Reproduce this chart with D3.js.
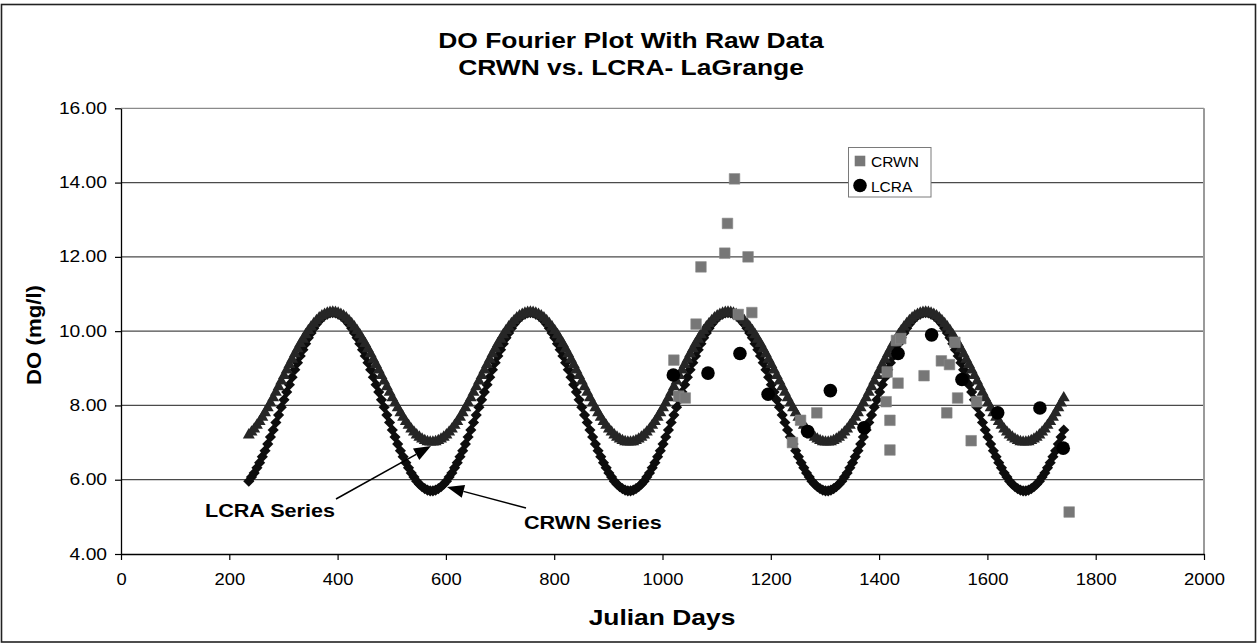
<!DOCTYPE html>
<html><head><meta charset="utf-8">
<script src="https://cdn.jsdelivr.net/npm/d3@7"></script>
<style>body{margin:0;background:#fff}svg{display:block}</style>
</head><body><svg id="c" width="1257" height="644"></svg>
<script>
// ---------------- DATA ----------------
const fourierDays = [
236,241,246,251,256,261,266,271,276,281,
286,291,296,301,306,311,316,321,326,331,
336,341,346,351,356,361,366,371,376,381,
386,391,396,401,406,411,416,421,426,431,
436,441,446,451,456,461,466,471,476,481,
486,491,496,501,506,511,516,521,526,531,
536,541,546,551,556,561,566,571,576,581,
586,591,596,601,606,611,616,621,626,631,
636,641,646,651,656,661,666,671,676,681,
686,691,696,701,706,711,716,721,726,731,
736,741,746,751,756,761,766,771,776,781,
786,791,796,801,806,811,816,821,826,831,
836,841,846,851,856,861,866,871,876,881,
886,891,896,901,906,911,916,921,926,931,
936,941,946,951,956,961,966,971,976,981,
986,991,996,1001,1006,1011,1016,1021,1026,1031,
1036,1041,1046,1051,1056,1061,1066,1071,1076,1081,
1086,1091,1096,1101,1106,1111,1116,1121,1126,1131,
1136,1141,1146,1151,1156,1161,1166,1171,1176,1181,
1186,1191,1196,1201,1206,1211,1216,1221,1226,1231,
1236,1241,1246,1251,1256,1261,1266,1271,1276,1281,
1286,1291,1296,1301,1306,1311,1316,1321,1326,1331,
1336,1341,1346,1351,1356,1361,1366,1371,1376,1381,
1386,1391,1396,1401,1406,1411,1416,1421,1426,1431,
1436,1441,1446,1451,1456,1461,1466,1471,1476,1481,
1486,1491,1496,1501,1506,1511,1516,1521,1526,1531,
1536,1541,1546,1551,1556,1561,1566,1571,1576,1581,
1586,1591,1596,1601,1606,1611,1616,1621,1626,1631,
1636,1641,1646,1651,1656,1661,1666,1671,1676,1681,
1686,1691,1696,1701,1706,1711,1716,1721,1726,1731,
1736,1741];

const lcraFourier = [
7.19,7.27,7.35,7.45,7.55,7.67,7.79,7.92,8.05,8.19,8.34,8.49,8.64,8.79,8.94,9.09,9.23,9.38,9.51,9.65,9.77,9.89,10.00,10.10,10.19,10.27,10.34,10.40,10.44,10.47,10.49,
10.50,10.49,10.47,10.44,10.40,10.34,10.27,10.19,10.10,10.00,9.89,9.77,9.65,9.51,9.38,9.23,9.09,8.94,8.79,8.64,8.49,8.34,8.19,8.05,7.92,7.79,7.67,7.55,7.45,7.35,7.27,7.19,7.13,7.08,7.04,7.01,7.00,
7.00,7.01,7.04,7.08,7.13,7.19,7.27,7.35,7.45,7.55,7.67,7.79,7.92,8.05,8.19,8.34,8.49,8.64,8.79,8.94,9.09,9.23,9.38,9.51,9.65,9.77,9.89,10.00,10.10,10.19,10.27,10.34,10.40,10.44,10.47,10.49,
10.50,10.49,10.47,10.44,10.40,10.34,10.27,10.19,10.10,10.00,9.89,9.77,9.65,9.51,9.38,9.23,9.09,8.94,8.79,8.64,8.49,8.34,8.19,8.05,7.92,7.79,7.67,7.55,7.45,7.35,7.27,7.19,7.13,7.08,7.04,7.01,7.00,
7.00,7.01,7.04,7.08,7.13,7.19,7.27,7.35,7.45,7.55,7.67,7.79,7.92,8.05,8.19,8.34,8.49,8.64,8.79,8.94,9.09,9.23,9.38,9.51,9.65,9.77,9.89,10.00,10.10,10.19,10.27,10.34,10.40,10.44,10.47,10.49,
10.50,10.49,10.47,10.44,10.40,10.34,10.27,10.19,10.10,10.00,9.89,9.77,9.65,9.51,9.38,9.23,9.09,8.94,8.79,8.64,8.49,8.34,8.19,8.05,7.92,7.79,7.67,7.55,7.45,7.35,7.27,7.19,7.13,7.08,7.04,7.01,7.00,
7.00,7.01,7.04,7.08,7.13,7.19,7.27,7.35,7.45,7.55,7.67,7.79,7.92,8.05,8.19,8.34,8.49,8.64,8.79,8.94,9.09,9.23,9.38,9.51,9.65,9.77,9.89,10.00,10.10,10.19,10.27,10.34,10.40,10.44,10.47,10.49,
10.50,10.49,10.47,10.44,10.40,10.34,10.27,10.19,10.10,10.00,9.89,9.77,9.65,9.51,9.38,9.23,9.09,8.94,8.79,8.64,8.49,8.34,8.19,8.05,7.92,7.79,7.67,7.55,7.45,7.35,7.27,7.19,7.13,7.08,7.04,7.01,7.00,
7.00,7.01,7.04,7.08,7.13,7.19,7.27,7.35,7.45,7.55,7.67,7.79,7.92,8.05,8.19];

const crwnFourier = [
5.96,6.07,6.18,6.32,6.46,6.62,6.78,6.96,7.15,7.34,7.54,7.74,7.95,8.15,8.36,8.56,8.76,8.96,9.15,9.33,9.50,9.66,9.82,9.95,10.08,10.19,10.28,10.36,10.42,10.46,10.49,
10.50,10.49,10.46,10.42,10.36,10.28,10.19,10.08,9.95,9.82,9.66,9.50,9.33,9.15,8.96,8.76,8.56,8.36,8.15,7.95,7.74,7.54,7.34,7.15,6.96,6.78,6.62,6.46,6.32,6.18,6.07,5.96,5.88,5.81,5.76,5.72,5.70,
5.70,5.72,5.76,5.81,5.88,5.96,6.07,6.18,6.32,6.46,6.62,6.78,6.96,7.15,7.34,7.54,7.74,7.95,8.15,8.36,8.56,8.76,8.96,9.15,9.33,9.50,9.66,9.82,9.95,10.08,10.19,10.28,10.36,10.42,10.46,10.49,
10.50,10.49,10.46,10.42,10.36,10.28,10.19,10.08,9.95,9.82,9.66,9.50,9.33,9.15,8.96,8.76,8.56,8.36,8.15,7.95,7.74,7.54,7.34,7.15,6.96,6.78,6.62,6.46,6.32,6.18,6.07,5.96,5.88,5.81,5.76,5.72,5.70,
5.70,5.72,5.76,5.81,5.88,5.96,6.07,6.18,6.32,6.46,6.62,6.78,6.96,7.15,7.34,7.54,7.74,7.95,8.15,8.36,8.56,8.76,8.96,9.15,9.33,9.50,9.66,9.82,9.95,10.08,10.19,10.28,10.36,10.42,10.46,10.49,
10.50,10.49,10.46,10.42,10.36,10.28,10.19,10.08,9.95,9.82,9.66,9.50,9.33,9.15,8.96,8.76,8.56,8.36,8.15,7.95,7.74,7.54,7.34,7.15,6.96,6.78,6.62,6.46,6.32,6.18,6.07,5.96,5.88,5.81,5.76,5.72,5.70,
5.70,5.72,5.76,5.81,5.88,5.96,6.07,6.18,6.32,6.46,6.62,6.78,6.96,7.15,7.34,7.54,7.74,7.95,8.15,8.36,8.56,8.76,8.96,9.15,9.33,9.50,9.66,9.82,9.95,10.08,10.19,10.28,10.36,10.42,10.46,10.49,
10.50,10.49,10.46,10.42,10.36,10.28,10.19,10.08,9.95,9.82,9.66,9.50,9.33,9.15,8.96,8.76,8.56,8.36,8.15,7.95,7.74,7.54,7.34,7.15,6.96,6.78,6.62,6.46,6.32,6.18,6.07,5.96,5.88,5.81,5.76,5.72,5.70,
5.70,5.72,5.76,5.81,5.88,5.96,6.07,6.18,6.32,6.46,6.62,6.78,6.96,7.15,7.34];

const crwnRawDays = [1021,1030,1042,1062,1071,1115,1120,1133,1140,1158,1165,1240,1255,1285,1413,1415,1420,1420,1432,1435,1440,1483,1515,1525,1530,1540,1545,1570,1580,1751];
const crwnRawDO   = [9.22,8.25,8.20,10.19,11.73,12.10,12.90,14.10,10.45,12.00,10.50,7.00,7.60,7.80,8.10,8.90,7.60,6.80,9.75,8.60,9.80,8.80,9.20,7.80,9.10,9.70,8.20,7.05,8.10,5.13];

const lcraRawDays = [1020,1084,1143,1195,1268,1310,1372,1435,1497,1553,1619,1697,1740];
const lcraRawDO   = [8.82,8.87,9.40,8.30,7.30,8.40,7.40,9.40,9.90,8.70,7.80,7.93,6.85];

const xTicks = [0,200,400,600,800,1000,1200,1400,1600,1800,2000];
const yTicks = [4,6,8,10,12,14,16];
const titleLines = ["DO Fourier Plot With Raw Data", "CRWN vs. LCRA- LaGrange"];
const xTitle = "Julian Days";
const yTitle = "DO (mg/l)";
const legendNames = ["CRWN", "LCRA"];
const annotations = ["LCRA Series", "CRWN Series"];

// ---------------- DRAW ----------------
const FONT = '"Liberation Sans", Arial, Helvetica, sans-serif';
const svg = d3.select("#c");
const x = d3.scaleLinear().domain([0, 2000]).range([121, 1204]);
const y = d3.scaleLinear().domain([4, 16]).range([554, 108.3]);

function stretch(sel, f) {
  sel.each(function () {
    const w = this.getComputedTextLength();
    this.setAttribute("textLength", (w * f).toFixed(1));
    this.setAttribute("lengthAdjust", "spacingAndGlyphs");
  });
}

svg.append("rect").attr("x", 0).attr("y", 0).attr("width", 1257).attr("height", 644).attr("fill", "#fff");
// outer frame
svg.append("rect").attr("x", 1.5).attr("y", 4.5).attr("width", 1254).attr("height", 637.5)
  .attr("fill", "none").attr("stroke", "#222").attr("stroke-width", 1.6);

// gridlines
svg.append("g").selectAll("line").data(yTicks.filter(d => d > 4)).join("line")
  .attr("x1", x(0)).attr("x2", x(2000)).attr("y1", d => y(d)).attr("y2", d => y(d))
  .attr("stroke", d => d === 16 ? "#8a8a8a" : "#4a4a4a").attr("stroke-width", 1.2);
// right border of plot area
svg.append("line").attr("x1", x(2000)).attr("x2", x(2000)).attr("y1", y(16)).attr("y2", y(4))
  .attr("stroke", "#9a9a9a").attr("stroke-width", 2);

// axes
const yAxis = svg.append("g").attr("transform", `translate(${x(0)},0)`)
  .call(d3.axisLeft(y).tickValues(yTicks).tickFormat(d3.format(".2f")).tickSize(6).tickSizeOuter(0).tickPadding(8));
const xAxis = svg.append("g").attr("transform", `translate(0,${y(4)})`)
  .call(d3.axisBottom(x).tickValues(xTicks).tickFormat(d3.format("d")).tickSize(6).tickSizeOuter(0).tickPadding(14));
[yAxis, xAxis].forEach(g => {
  g.attr("font-family", FONT).attr("font-size", 16);
  g.select(".domain").attr("stroke", "#000").attr("stroke-width", 1.3);
  g.selectAll(".tick line").attr("stroke", "#000").attr("stroke-width", 1.2);
  g.selectAll(".tick text").attr("fill", "#000");
});
stretch(yAxis.selectAll(".tick text"), 1.2);
stretch(xAxis.selectAll(".tick text"), 1.15);

// fourier series: diamonds (CRWN) then triangles (LCRA)
const crwnFit = fourierDays.map((d, i) => ({ d, v: crwnFourier[i] })).filter(p => p.v !== undefined);
const lcraFit = fourierDays.map((d, i) => ({ d, v: lcraFourier[i] })).filter(p => p.v !== undefined);
const diamond = d3.symbol(d3.symbolSquare, 62)();
const tri = d3.symbol(d3.symbolTriangle, 62)();
svg.append("g").selectAll("path").data(crwnFit).join("path")
  .attr("d", diamond).attr("fill", "#0d0d0d")
  .attr("transform", p => `translate(${x(p.d)},${y(p.v)}) rotate(45)`);
svg.append("g").selectAll("path").data(lcraFit).join("path")
  .attr("d", tri).attr("fill", "#262626")
  .attr("transform", p => `translate(${x(p.d)},${y(p.v) - 0.5})`);

// raw data
const crwnRaw = crwnRawDays.map((d, i) => ({ d, v: crwnRawDO[i] }));
const lcraRaw = lcraRawDays.map((d, i) => ({ d, v: lcraRawDO[i] }));
const sq = d3.symbol(d3.symbolSquare, 112)();
svg.append("g").selectAll("path").data(crwnRaw).join("path")
  .attr("d", sq).attr("fill", "#777").attr("stroke", "#8a8a8a").attr("stroke-width", 0.6)
  .attr("transform", p => `translate(${x(p.d)},${y(p.v)})`);
svg.append("g").selectAll("circle").data(lcraRaw).join("circle")
  .attr("cx", p => x(p.d)).attr("cy", p => y(p.v)).attr("r", 6.8).attr("fill", "#000");

// legend
const lg = svg.append("g");
lg.append("rect").attr("x", 848.5).attr("y", 147.5).attr("width", 82.5).attr("height", 49.5)
  .attr("fill", "#fff").attr("stroke", "#7a7a7a").attr("stroke-width", 1);
lg.append("path").attr("d", sq).attr("fill", "#777").attr("transform", "translate(860,161)");
lg.append("circle").attr("cx", 860).attr("cy", 185.5).attr("r", 6.8).attr("fill", "#000");
lg.selectAll("text").data(legendNames).join("text")
  .attr("x", 871).attr("y", (d, i) => 167 + i * 25).text(d => d)
  .attr("font-family", FONT).attr("font-size", 15.5).attr("fill", "#000");

// title
const tt = svg.append("g").selectAll("text").data(titleLines).join("text")
  .attr("x", 631).attr("y", (d, i) => 48 + i * 27).attr("text-anchor", "middle")
  .attr("font-family", FONT).attr("font-weight", "bold").attr("font-size", 22).attr("fill", "#000").text(d => d);
stretch(tt, 1.2);

// axis titles
const xt = svg.append("text").attr("x", 662).attr("y", 625).attr("text-anchor", "middle")
  .attr("font-family", FONT).attr("font-weight", "bold").attr("font-size", 22).text(xTitle);
stretch(xt, 1.2);
svg.append("text").attr("transform", "translate(41,335) rotate(-90)").attr("text-anchor", "middle")
  .attr("font-family", FONT).attr("font-weight", "bold").attr("font-size", 21)
  .attr("textLength", 100).attr("lengthAdjust", "spacingAndGlyphs").text(yTitle);

// annotations with arrows
const ann = [
  { text: annotations[0], tx: 205, ty: 517, anchor: "start", x1: 336, y1: 499, x2: 431, y2: 446 },
  { text: annotations[1], tx: 524, ty: 529, anchor: "start", x1: 526, y1: 508, x2: 447, y2: 487 }
];
ann.forEach(a => {
  const t = svg.append("text").attr("x", a.tx).attr("y", a.ty).attr("text-anchor", a.anchor)
    .attr("font-family", FONT).attr("font-weight", "bold").attr("font-size", 18).attr("fill", "#000").text(a.text);
  stretch(t, 1.2);
  const ang = Math.atan2(a.y2 - a.y1, a.x2 - a.x1);
  const L = 17, W = 6.5;
  const bx = a.x2 - L * Math.cos(ang), by = a.y2 - L * Math.sin(ang);
  svg.append("line").attr("x1", a.x1).attr("y1", a.y1).attr("x2", bx).attr("y2", by)
    .attr("stroke", "#000").attr("stroke-width", 1.5);
  const px = -Math.sin(ang) * W, py = Math.cos(ang) * W;
  svg.append("path").attr("d", `M${a.x2},${a.y2}L${bx + px},${by + py}L${bx - px},${by - py}Z`).attr("fill", "#000");
});
</script></body></html>
